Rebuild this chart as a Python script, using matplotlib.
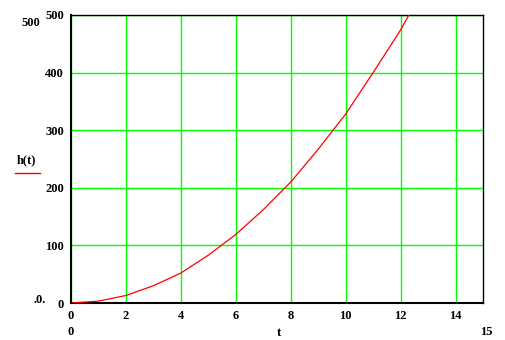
import numpy as np
from matplotlib import pyplot as plt

# values
t_vals = [0, 1, 2, 3, 4, 5, 6, 7, 8, 9, 10, 11, 12, 12.3]
h_vals = [0, 3.3, 13, 30, 52, 83, 119, 162, 210, 267, 328, 400, 474, 500]
x_ticks = [0, 2, 4, 6, 8, 10, 12, 14]
y_ticks = [0, 100, 200, 300, 400, 500]

W, H = 506, 340
fig = plt.figure(figsize=(W / 100, H / 100), dpi=100)
ax = fig.add_axes([71 / W, 1 - 303 / H, 412 / W, 288 / H])

font = dict(family='Liberation Serif', weight='bold', size=9)

ax.plot(t_vals, h_vals, color='red', lw=0.9, zorder=3)
ax.set_xlim(0, 15)
ax.set_ylim(0, 500)
ax.set_xticks(x_ticks)
ax.set_yticks(y_ticks)
ax.set_xticklabels([str(v) for v in x_ticks], fontdict=font)
ax.set_yticklabels([str(v) for v in y_ticks], fontdict=font)
ax.tick_params(length=0, pad=5)
ax.grid(color='#00ff00', lw=1.0)
ax.set_axisbelow(True)
for s in ax.spines.values():
    s.set_color('black')
    s.set_linewidth(1.0)
ax.spines['bottom'].set_linewidth(1.5)
ax.spines['left'].set_linewidth(1.5)


def ftext(x, y, s, **kw):
    fig.text(x / W, 1 - y / H, s, ha='center', va='center', **font, **kw)


# mathcad style labels around the plot
ftext(26, 160, 'h(t)')
fig.add_artist(plt.Line2D([15 / W, 40 / W], [1 - 173 / H, 1 - 173 / H], color='red', lw=1))
ftext(31, 23, '500')
ftext(40, 300, '.0.')
ftext(71, 332, '0')
ftext(279, 333, 't')
ftext(486, 332, '15')

fig.savefig('out.png', dpi=100)
